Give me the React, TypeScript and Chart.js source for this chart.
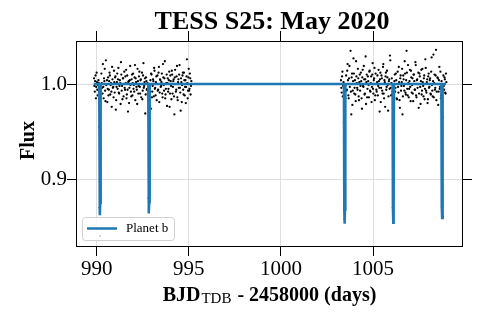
import React, { useEffect, useRef } from "react";
import { Chart, registerables } from "chart.js";

Chart.register(...registerables);

const TITLE = "TESS S25: May 2020";
const Y_LABEL = "Flux";
const X_LABEL_MAIN = "BJD";
const X_LABEL_SUB = "TDB";
const X_LABEL_REST = " - 2458000 (days)";
const LEGEND_LABEL = "Planet b";

const xTicks = [990, 995, 1000, 1005];
const yTicks = [0.9, 1.0];
const xMin = 988.88;
const xMax = 1009.83;
const yMin = 0.8295;
const yMax = 1.0453;

const time1 = [
  989.86, 989.9, 989.94, 989.98, 990.02, 990.06, 990.1, 990.14, 990.18, 990.22,
  990.26, 990.3, 990.34, 990.38, 990.42, 990.46, 990.5, 990.54, 990.58, 990.62,
  990.66, 990.7, 990.74, 990.78, 990.82, 990.86, 990.9, 990.94, 990.98, 991.02,
  991.06, 991.1, 991.14, 991.18, 991.22, 991.26, 991.3, 991.34, 991.38, 991.42,
  991.46, 991.5, 991.54, 991.58, 991.62, 991.66, 991.7, 991.74, 991.78, 991.82,
  991.86, 991.9, 991.94, 991.98, 992.02, 992.06, 992.1, 992.14, 992.18, 992.22,
  992.26, 992.3, 992.34, 992.38, 992.42, 992.46, 992.5, 992.54, 992.58, 992.62,
  992.66, 992.7, 992.74, 992.78, 992.82, 992.86, 992.9, 992.94, 992.98, 993.02,
  993.06, 993.1, 993.14, 993.18, 993.22, 993.26, 993.3, 993.34, 993.38, 993.42,
  993.46, 993.5, 993.54, 993.58, 993.62, 993.66, 993.7, 993.74, 993.78, 993.82,
  993.86, 993.9, 993.94, 993.98, 994.02, 994.06, 994.1, 994.14, 994.18, 994.22,
  994.26, 994.3, 994.34, 994.38, 994.42, 994.46, 994.5, 994.54, 994.58, 994.62,
  994.66, 994.7, 994.74, 994.78, 994.82, 994.86, 994.9, 994.94, 994.98, 995.02,
  995.06, 995.1, 995.14,
];
const flux1 = [
  1.006, 0.992, 1.009, 0.997, 1.002, 0.988, 1.004, 0.955, 0.84, 0.93,
  1.011, 0.996, 1.021, 0.985, 1.003, 0.993, 1.025, 1.0, 0.981, 1.007,
  0.994, 1.012, 0.989, 1.001, 0.976, 1.005, 0.997, 1.014, 0.991, 1.008,
  0.983, 1.002, 0.995, 1.017, 0.99, 1.004, 0.979, 1.01, 0.998, 1.006,
  0.987, 1.013, 0.994, 1.001, 0.985, 1.009, 0.971, 1.003, 0.996, 1.019,
  0.992, 1.005, 0.988, 1.011, 0.999, 1.007, 0.983, 1.002, 0.994, 1.016,
  0.99, 1.008, 0.997, 1.004, 0.986, 1.012, 0.993, 1.022, 0.998, 1.006,
  0.989, 1.003, 0.995, 0.99, 0.88, 0.875, 0.999, 0.974, 1.01, 0.992,
  1.005, 0.987, 1.014, 0.996, 1.002, 0.983, 1.009, 0.994, 1.018, 0.991,
  1.004, 0.998, 1.011, 0.986, 1.007, 0.993, 1.024, 0.989, 1.001, 0.977,
  1.006, 0.995, 1.013, 0.99, 1.003, 0.984, 1.01, 0.997, 1.005, 0.968,
  1.015, 0.992, 1.008, 0.986, 1.002, 0.996, 1.02, 0.991, 1.006, 0.981,
  1.009, 0.994, 1.012, 0.988, 1.004, 0.997, 1.026, 0.985, 1.007, 0.993,
  1.011, 0.989, 1.003,
];

const time1b = [
  989.88, 989.92, 989.96, 990.0, 990.04, 990.08, 990.12, 990.16, 990.2, 990.24,
  990.28, 990.32, 990.36, 990.4, 990.44, 990.48, 990.52, 990.56, 990.6, 990.64,
  990.68, 990.72, 990.76, 990.8, 990.84, 990.88, 990.92, 990.96, 991.0, 991.04,
  991.08, 991.12, 991.16, 991.2, 991.24, 991.28, 991.32, 991.36, 991.4, 991.44,
  991.48, 991.52, 991.56, 991.6, 991.64, 991.68, 991.72, 991.76, 991.8, 991.84,
  991.88, 991.92, 991.96, 992.0, 992.04, 992.08, 992.12, 992.16, 992.2, 992.24,
  992.28, 992.32, 992.36, 992.4, 992.44, 992.48, 992.52, 992.56, 992.6, 992.64,
  992.68, 992.72, 992.76, 992.8, 992.84, 992.88, 992.92, 992.96, 993.0, 993.04,
  993.08, 993.12, 993.16, 993.2, 993.24, 993.28, 993.32, 993.36, 993.4, 993.44,
  993.48, 993.52, 993.56, 993.6, 993.64, 993.68, 993.72, 993.76, 993.8, 993.84,
  993.88, 993.92, 993.96, 994.0, 994.04, 994.08, 994.12, 994.16, 994.2, 994.24,
  994.28, 994.32, 994.36, 994.4, 994.44, 994.48, 994.52, 994.56, 994.6, 994.64,
  994.68, 994.72, 994.76, 994.8, 994.84, 994.88, 994.92, 994.96, 995.0, 995.04,
  995.08, 995.12,
];
const flux1b = [
  0.998, 1.003, 0.985, 1.012, 0.994, 0.999, 1.001, 0.87, 0.88, 0.996,
  1.001, 0.99, 0.997, 1.006, 1.016, 0.982, 0.999, 1.004, 0.995, 0.988,
  1.003, 1.009, 0.999, 0.992, 1.018, 0.996, 0.986, 1.002, 1.007, 0.973,
  0.997, 1.011, 1.005, 0.991, 0.998, 1.001, 1.023, 0.993, 0.984, 1.006,
  1.0, 0.996, 1.008, 1.015, 0.989, 0.994, 1.002, 0.98, 1.004, 0.999,
  0.987, 1.01, 1.001, 0.995, 0.992, 1.02, 1.006, 0.997, 0.979, 1.003,
  0.998, 1.013, 0.99, 1.005, 1.0, 0.984, 1.009, 0.996, 1.002, 0.969,
  1.007, 0.994, 1.001, 0.999, 0.865, 0.992, 1.004, 1.011, 0.986, 0.998,
  1.003, 1.017, 0.995, 0.988, 1.008, 1.0, 0.993, 1.012, 0.981, 1.005,
  0.997, 1.002, 0.99, 1.021, 0.999, 1.006, 0.985, 0.995, 1.01, 1.001,
  0.992, 1.004, 0.976, 1.009, 0.998, 1.014, 0.99, 1.003, 0.987, 1.007,
  1.0, 0.994, 1.019, 0.983, 1.005, 1.01, 0.996, 0.972, 1.002, 0.999,
  1.012, 0.989, 1.004, 0.997, 0.98, 1.008, 1.001, 0.993, 1.016, 0.995,
  1.006, 0.998,
];

const time2 = [
  1003.26, 1003.3, 1003.34, 1003.38, 1003.42, 1003.46, 1003.5, 1003.54, 1003.58, 1003.62,
  1003.66, 1003.7, 1003.74, 1003.78, 1003.82, 1003.86, 1003.9, 1003.94, 1003.98, 1004.02,
  1004.06, 1004.1, 1004.14, 1004.18, 1004.22, 1004.26, 1004.3, 1004.34, 1004.38, 1004.42,
  1004.46, 1004.5, 1004.54, 1004.58, 1004.62, 1004.66, 1004.7, 1004.74, 1004.78, 1004.82,
  1004.86, 1004.9, 1004.94, 1004.98, 1005.02, 1005.06, 1005.1, 1005.14, 1005.18, 1005.22,
  1005.26, 1005.3, 1005.34, 1005.38, 1005.42, 1005.46, 1005.5, 1005.54, 1005.58, 1005.62,
  1005.66, 1005.7, 1005.74, 1005.78, 1005.82, 1005.86, 1005.9, 1005.94, 1005.98, 1006.02,
  1006.06, 1006.1, 1006.14, 1006.18, 1006.22, 1006.26, 1006.3, 1006.34, 1006.38, 1006.42,
  1006.46, 1006.5, 1006.54, 1006.58, 1006.62, 1006.66, 1006.7, 1006.74, 1006.78, 1006.82,
  1006.86, 1006.9, 1006.94, 1006.98, 1007.02, 1007.06, 1007.1, 1007.14, 1007.18, 1007.22,
  1007.26, 1007.3, 1007.34, 1007.38, 1007.42, 1007.46, 1007.5, 1007.54, 1007.58, 1007.62,
  1007.66, 1007.7, 1007.74, 1007.78, 1007.82, 1007.86, 1007.9, 1007.94, 1007.98, 1008.02,
  1008.06, 1008.1, 1008.14, 1008.18, 1008.22, 1008.26, 1008.3, 1008.34, 1008.38, 1008.42,
  1008.46, 1008.5, 1008.54, 1008.58, 1008.62, 1008.66, 1008.7, 1008.74, 1008.78, 1008.82,
  1008.86, 1008.9, 1008.94, 1008.98,
];
const flux2 = [
  1.004, 0.991, 1.013, 0.998, 0.96, 0.858, 0.985, 1.009, 0.994, 1.021,
  0.988, 1.006, 0.997, 1.035, 0.968, 1.011, 0.993, 1.027, 0.99, 1.004,
  0.982, 1.008, 0.996, 1.016, 0.987, 1.002, 0.993, 1.012, 0.985, 1.007,
  0.998, 1.019, 0.989, 1.005, 0.979, 1.01, 0.995, 1.003, 0.986, 1.014,
  0.992, 1.008, 0.997, 1.022, 0.99, 1.006, 0.983, 1.011, 0.994, 1.002,
  0.988, 1.015, 0.996, 1.005, 0.981, 1.009, 0.993, 1.018, 0.99, 1.004,
  0.976, 1.012, 0.997, 1.007, 0.972, 1.003, 0.995, 1.025, 0.988, 1.006,
  0.992, 0.862, 0.99, 1.01, 0.996, 1.004, 0.984, 1.013, 0.991, 1.002,
  0.975, 1.009, 0.998, 1.016, 0.987, 1.005, 0.993, 1.011, 0.989, 1.035,
  0.995, 1.02, 0.986, 1.003, 0.997, 1.014, 0.991, 1.006, 0.982, 1.01,
  0.994, 1.023, 0.988, 1.004, 0.996, 1.012, 0.99, 1.008, 0.979, 1.015,
  0.993, 1.002, 0.987, 1.009, 0.995, 1.017, 0.991, 1.005, 0.984, 1.011,
  0.997, 1.006, 0.989, 1.028, 0.993, 1.003, 0.986, 1.01, 0.996, 1.036,
  0.992, 1.007, 0.978, 1.004, 0.995, 1.013, 0.988, 0.87, 0.965, 1.009,
  0.994, 1.005, 0.99, 1.002,
];

const time2b = [
  1003.28, 1003.32, 1003.36, 1003.4, 1003.44, 1003.48, 1003.52, 1003.56, 1003.6, 1003.64,
  1003.68, 1003.72, 1003.76, 1003.8, 1003.84, 1003.88, 1003.92, 1003.96, 1004.0, 1004.04,
  1004.08, 1004.12, 1004.16, 1004.2, 1004.24, 1004.28, 1004.32, 1004.36, 1004.4, 1004.44,
  1004.48, 1004.52, 1004.56, 1004.6, 1004.64, 1004.68, 1004.72, 1004.76, 1004.8, 1004.84,
  1004.88, 1004.92, 1004.96, 1005.0, 1005.04, 1005.08, 1005.12, 1005.16, 1005.2, 1005.24,
  1005.28, 1005.32, 1005.36, 1005.4, 1005.44, 1005.48, 1005.52, 1005.56, 1005.6, 1005.64,
  1005.68, 1005.72, 1005.76, 1005.8, 1005.84, 1005.88, 1005.92, 1005.96, 1006.0, 1006.04,
  1006.08, 1006.12, 1006.16, 1006.2, 1006.24, 1006.28, 1006.32, 1006.36, 1006.4, 1006.44,
  1006.48, 1006.52, 1006.56, 1006.6, 1006.64, 1006.68, 1006.72, 1006.76, 1006.8, 1006.84,
  1006.88, 1006.92, 1006.96, 1007.0, 1007.04, 1007.08, 1007.12, 1007.16, 1007.2, 1007.24,
  1007.28, 1007.32, 1007.36, 1007.4, 1007.44, 1007.48, 1007.52, 1007.56, 1007.6, 1007.64,
  1007.68, 1007.72, 1007.76, 1007.8, 1007.84, 1007.88, 1007.92, 1007.96, 1008.0, 1008.04,
  1008.08, 1008.12, 1008.16, 1008.2, 1008.24, 1008.28, 1008.32, 1008.36, 1008.4, 1008.44,
  1008.48, 1008.52, 1008.56, 1008.6, 1008.64, 1008.68, 1008.72, 1008.76, 1008.8, 1008.84,
  1008.88, 1008.92, 1008.96,
];
const flux2b = [
  0.996, 1.008, 0.987, 1.002, 0.87, 0.875, 0.999, 0.993, 1.014, 1.004,
  0.985, 1.019, 1.0, 0.992, 1.007, 0.978, 1.003, 1.011, 0.996, 0.989,
  1.024, 1.001, 0.994, 1.006, 0.983, 1.01, 0.998, 1.003, 0.974, 1.015,
  0.997, 1.005, 0.99, 1.029, 1.002, 0.986, 1.008, 0.999, 1.013, 0.993,
  1.001, 0.981, 1.01, 0.995, 1.004, 1.017, 0.988, 1.0, 0.992, 1.009,
  0.998, 1.003, 0.971, 1.012, 0.996, 1.006, 0.99, 1.021, 0.985, 1.002,
  1.008, 0.994, 1.014, 0.999, 0.987, 1.005, 1.03, 0.996, 1.001, 0.989,
  0.87, 0.88, 1.003, 0.992, 1.011, 0.985, 1.0, 0.997, 1.018, 0.983,
  1.006, 0.993, 1.002, 0.968, 1.009, 0.998, 1.024, 0.991, 1.004, 1.012,
  0.988, 1.001, 0.995, 1.015, 0.982, 1.007, 0.999, 0.99, 1.01, 1.003,
  0.994, 1.02, 0.986, 1.005, 1.0, 0.975, 1.011, 0.997, 1.003, 0.989,
  1.016, 0.998, 1.006, 0.984, 1.026, 0.993, 1.002, 0.98, 1.008, 0.996,
  1.004, 0.99, 1.013, 0.999, 0.987, 1.031, 1.001, 0.994, 1.009, 0.983,
  1.0, 1.006, 0.992, 1.018, 0.997, 0.985, 1.003, 0.948, 0.86, 0.998,
  1.007, 0.991, 1.011,
];

const modelTime = [
  989.84, 990.14, 990.16, 990.18, 990.2, 990.22,
  992.8, 992.82, 992.84, 992.86, 992.88,
  1003.42, 1003.44, 1003.46, 1003.48, 1003.5,
  1006.06, 1006.08, 1006.1, 1006.12, 1006.14,
  1008.71, 1008.73, 1008.75, 1008.77, 1008.79, 1008.96,
];
const modelFlux = [
  1.0, 1.0, 0.875, 0.862, 0.875, 1.0,
  1.0, 0.877, 0.864, 0.877, 1.0,
  1.0, 0.868, 0.853, 0.868, 1.0,
  1.0, 0.869, 0.854, 0.869, 1.0,
  1.0, 0.872, 0.859, 0.872, 1.0, 1.0,
];

const MODEL_COLOR = "#1f77b4";
const SERIF = "'Liberation Serif', 'DejaVu Serif', serif";

const overlayPlugin = {
  id: "overlay",
  afterDraw(chart: any) {
    const { ctx, chartArea: ca } = chart;
    const cx = (ca.left + ca.right) / 2;
    ctx.save();
    ctx.fillStyle = "#000";

    // Title
    ctx.font = `bold 26px ${SERIF}`;
    ctx.textAlign = "center";
    ctx.textBaseline = "alphabetic";
    ctx.fillText(TITLE, cx + 3, ca.top - 12.5);

    // X label with subscript
    const fMain = `bold 20px ${SERIF}`;
    const fSub = `15px ${SERIF}`;
    ctx.font = fMain;
    const w1 = ctx.measureText(X_LABEL_MAIN).width;
    const w3 = ctx.measureText(X_LABEL_REST).width;
    ctx.font = fSub;
    const w2 = ctx.measureText(X_LABEL_SUB).width + 1;
    let x = cx - (w1 + w2 + w3) / 2;
    const base = ca.bottom + 55;
    ctx.textAlign = "left";
    ctx.font = fMain;
    ctx.fillText(X_LABEL_MAIN, x, base);
    x += w1 + 1;
    ctx.font = fSub;
    ctx.fillText(X_LABEL_SUB, x, base + 2);
    x += w2;
    ctx.font = fMain;
    ctx.fillText(X_LABEL_REST, x, base);

    // Y label
    ctx.save();
    ctx.translate(29, (ca.top + ca.bottom) / 2 - 3);
    ctx.rotate(-Math.PI / 2);
    ctx.textAlign = "center";
    ctx.textBaseline = "middle";
    ctx.font = `bold 20px ${SERIF}`;
    ctx.fillText(Y_LABEL, 0, 0);
    ctx.restore();

    // Legend
    const lx = ca.left + 6;
    const ly = ca.bottom - 29;
    const lw = 92;
    const lh = 23;
    ctx.beginPath();
    if (ctx.roundRect) ctx.roundRect(lx + 0.5, ly + 0.5, lw, lh, 3);
    else ctx.rect(lx + 0.5, ly + 0.5, lw, lh);
    ctx.fillStyle = "rgba(255,255,255,0.8)";
    ctx.fill();
    ctx.strokeStyle = "rgba(204,204,204,0.9)";
    ctx.lineWidth = 1;
    ctx.stroke();
    ctx.beginPath();
    ctx.moveTo(lx + 5, ly + 11.5);
    ctx.lineTo(lx + 35, ly + 11.5);
    ctx.strokeStyle = MODEL_COLOR;
    ctx.lineWidth = 2.5;
    ctx.stroke();
    ctx.fillStyle = "#000";
    ctx.font = `13px ${SERIF}`;
    ctx.textAlign = "left";
    ctx.textBaseline = "middle";
    ctx.fillText(LEGEND_LABEL, lx + 44, ly + 12);
    ctx.restore();
  },
};

function pairs(t: number[], f: number[]) {
  return t.map((v, i) => ({ x: v, y: f[i] }));
}

export default function App() {
  const ref = useRef<HTMLCanvasElement | null>(null);

  useEffect(() => {
    if (!ref.current) return;
    const modelData = pairs(modelTime, modelFlux);
    const obsData = [
      ...pairs(time1, flux1),
      ...pairs(time1b, flux1b),
      ...pairs(time2, flux2),
      ...pairs(time2b, flux2b),
    ];
    const tickFont = { family: SERIF, size: 21 };
    const chart = new Chart(ref.current, {
      type: "scatter",
      data: {
        datasets: [
          {
            label: LEGEND_LABEL,
            data: modelData,
            showLine: true,
            borderColor: MODEL_COLOR,
            backgroundColor: MODEL_COLOR,
            borderWidth: 2.5,
            pointRadius: 0,
            tension: 0,
          },
          {
            label: "data",
            data: obsData,
            showLine: false,
            pointRadius: 1.15,
            pointBorderWidth: 0,
            backgroundColor: "#000",
            borderColor: "#000",
          },
        ],
      },
      options: {
        responsive: false,
        animation: false,
        devicePixelRatio: 1,
        layout: { padding: { top: 31, right: 6, left: 0, bottom: 0 } },
        plugins: {
          legend: { display: false },
          title: { display: false },
          tooltip: { enabled: false },
        },
        scales: {
          x: {
            type: "linear",
            position: "bottom",
            min: xMin,
            max: xMax,
            afterBuildTicks: (s: any) => {
              s.ticks = xTicks.map((v) => ({ value: v }));
            },
            afterFit: (s: any) => {
              s.height = 73;
            },
            ticks: {
              color: "#000",
              font: tickFont,
              padding: 1,
              maxRotation: 0,
              callback: (v: any) => String(v),
            },
            grid: {
              color: "#dedede",
              lineWidth: 1,
              tickColor: "#000",
              tickLength: 10,
              tickWidth: 1,
            },
            border: { display: true, color: "#000", width: 1 },
          },
          x2: {
            type: "linear",
            position: "top",
            min: xMin,
            max: xMax,
            afterBuildTicks: (s: any) => {
              s.ticks = xTicks.map((v) => ({ value: v }));
            },
            afterFit: (s: any) => {
              s.height = 10;
            },
            ticks: { display: false },
            grid: {
              drawOnChartArea: false,
              tickColor: "#000",
              tickLength: 10,
              tickWidth: 1,
            },
            border: { display: true, color: "#000", width: 1 },
          },
          y: {
            type: "linear",
            position: "left",
            min: yMin,
            max: yMax,
            afterBuildTicks: (s: any) => {
              s.ticks = yTicks.map((v) => ({ value: v }));
            },
            afterFit: (s: any) => {
              s.width = 76;
            },
            ticks: {
              color: "#000",
              font: tickFont,
              padding: 0,
              callback: (v: any) => Number(v).toFixed(1),
            },
            grid: {
              color: "#dedede",
              lineWidth: 1,
              tickColor: "#000",
              tickLength: 9,
              tickWidth: 1,
            },
            border: { display: true, color: "#000", width: 1 },
          },
          y2: {
            type: "linear",
            position: "right",
            min: yMin,
            max: yMax,
            afterBuildTicks: (s: any) => {
              s.ticks = yTicks.map((v) => ({ value: v }));
            },
            afterFit: (s: any) => {
              s.width = 10;
            },
            ticks: { display: false },
            grid: {
              drawOnChartArea: false,
              tickColor: "#000",
              tickLength: 10,
              tickWidth: 1,
            },
            border: { display: true, color: "#000", width: 1 },
          },
        },
      },
      plugins: [overlayPlugin],
    } as any);
    return () => chart.destroy();
  }, []);

  return (
    <div style={{ position: "absolute", left: 0, top: 0, width: 478, height: 319, background: "#fff" }}>
      <canvas ref={ref} width={478} height={319} style={{ display: "block" }} />
    </div>
  );
}
